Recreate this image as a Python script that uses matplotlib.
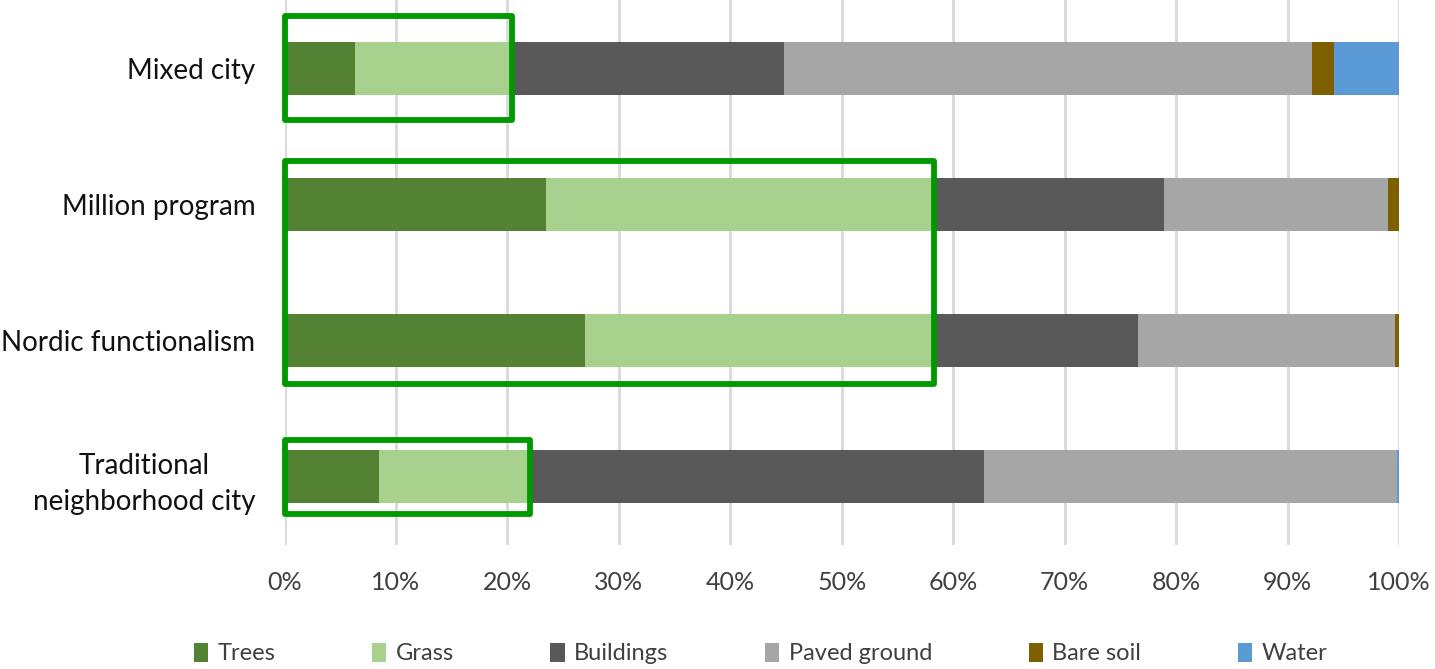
import numpy as np
import matplotlib.pyplot as plt
from matplotlib.patches import Rectangle

plt.rcParams['font.family'] = ['Lato', 'DejaVu Sans']

# Land-cover shares (%) per urban typology, top to bottom
typologies = ["Mixed city", "Million program", "Nordic functionalism",
              "Traditional\nneighborhood city"]
trees = [6.3, 23.5, 27.0, 8.5]
grass = [14.1, 34.8, 31.3, 13.5]
buildings = [24.4, 20.6, 18.3, 40.8]
paved = [47.4, 20.1, 23.0, 37.0]
bare_soil = [2.0, 1.0, 0.4, 0.0]
water = [5.8, 0.0, 0.0, 0.2]

classes = ["Trees", "Grass", "Buildings", "Paved ground", "Bare soil", "Water"]
series = [trees, grass, buildings, paved, bare_soil, water]
colors = ["#548235", "#A9D18E", "#595959", "#A6A6A6", "#7F6000", "#5B9BD5"]

fig = plt.figure(figsize=(14.35, 6.69), dpi=100)
ax = fig.add_axes([0.1983, 0.1854, 0.7766, 0.8146])

y = np.arange(len(typologies))[::-1]
left = np.zeros(len(typologies))
for name, vals, col in zip(classes, series, colors):
    vals = np.array(vals)
    ax.barh(y, vals, left=left, height=0.39, color=col, label=name, zorder=2)
    left += vals

# highlight green-space share (trees + grass)
green = np.array(trees) + np.array(grass)
groups = [([0], 0.38), ([1, 2], 0.32), ([3], 0.27)]
for idx, pad in groups:
    ys = y[idx]
    x1 = max(green[i] for i in idx)
    rect = Rectangle((0, ys.min() - pad), x1, ys.max() - ys.min() + 2 * pad,
                     fill=False, edgecolor="#009900", linewidth=4.2,
                     joinstyle="round", zorder=4, clip_on=False)
    ax.add_patch(rect)

ax.set_xlim(0, 100)
ax.set_ylim(-0.5, 3.5)
ax.set_xticks(np.arange(0, 101, 10))
ax.set_xticklabels([f"{v}%" for v in range(0, 101, 10)])
ax.set_yticks(y)
ax.set_yticklabels(typologies, fontsize=20, color="#111111")
ax.tick_params(axis="x", length=0, pad=19, labelsize=18, labelcolor="#404040")
ax.tick_params(axis="y", length=0, pad=21)
for lbl in ax.get_yticklabels():
    lbl.set_multialignment("center")
    lbl.set_linespacing(1.45)
ax.grid(axis="x", color="#D9D9D9", linewidth=2, zorder=0)
ax.set_axisbelow(True)
for s in ax.spines.values():
    s.set_visible(False)

fig.legend(loc="lower center", bbox_to_anchor=(0.53, -0.025), ncol=6,
           frameon=False, fontsize=17, handlelength=0.6, handleheight=0.9,
           handletextpad=0.4, columnspacing=4.1, labelcolor="#404040")

fig.savefig("out.png", dpi=100)
